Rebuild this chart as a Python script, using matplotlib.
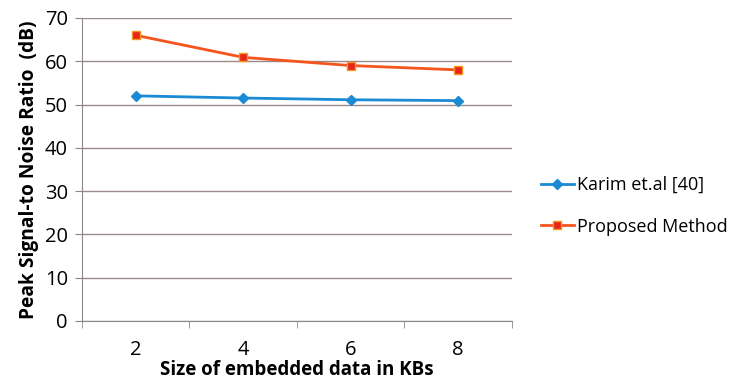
import matplotlib.pyplot as plt
from matplotlib.ticker import FixedLocator

# data sizes (KB) and PSNR values for both methods
sizes = ["2", "4", "6", "8"]
karim = [52.0, 51.5, 51.1, 50.9]
proposed = [66.0, 60.9, 59.0, 58.0]

plt.rcParams['font.family'] = ['Open Sans', 'DejaVu Sans']

fig = plt.figure(figsize=(7.44, 3.9), dpi=100)
ax = fig.add_axes([0.110, 0.177, 0.578, 0.777])

pos = list(range(1, len(sizes) + 1))
ax.plot(pos, karim, color='#1a8ad4', lw=2, marker='D', ms=5,
        label='Karim et.al [40]')
ax.plot(pos, proposed, color='#f5541c', lw=2, marker='s', ms=6,
        mfc='#e8251c', mec='#f7941d', label='Proposed Method')

ax.set_xlim(0.5, len(sizes) + 0.5)
ax.set_ylim(0, 70)
ax.set_yticks(range(0, 71, 10))
ax.set_xticks(pos)
ax.set_xticklabels(sizes)
ax.xaxis.set_minor_locator(FixedLocator([p + 0.5 for p in range(0, len(sizes) + 1)]))
ax.tick_params(axis='x', which='major', length=0, pad=14, labelsize=14.5)
ax.tick_params(axis='x', which='minor', length=5, color='#888888')
ax.tick_params(axis='y', length=5, color='#888888', labelsize=14.5, pad=5)

ax.grid(axis='y', color='#9a8a88', lw=1)
ax.set_axisbelow(True)
for s in ['top', 'right']:
    ax.spines[s].set_visible(False)
ax.spines['left'].set_color('#888888')
ax.spines['bottom'].set_color('#888888')

ax.set_xlabel('Size of embedded data in KBs', fontsize=13.5, fontweight='bold', labelpad=0)
ax.set_ylabel('Peak Signal-to Noise Ratio  (dB)', fontsize=13.8, fontweight='bold', labelpad=4)

ax.legend(loc='center left', bbox_to_anchor=(1.03, 0.38), frameon=False,
          fontsize=13, handlelength=1.8, handletextpad=0.2, labelspacing=1.3)

fig.savefig('out.png', dpi=100)
